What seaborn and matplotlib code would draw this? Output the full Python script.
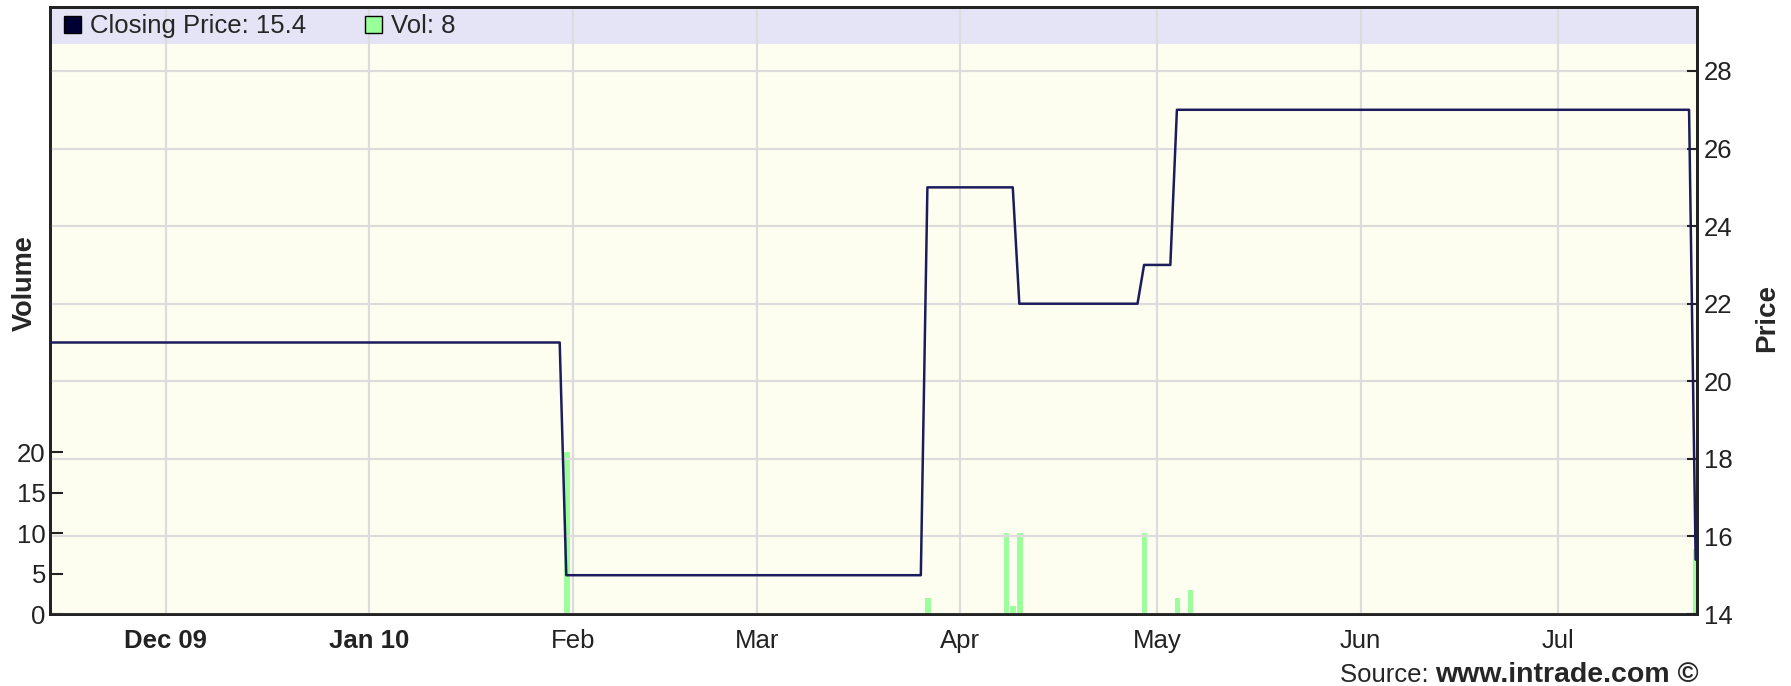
import pandas as pd
import matplotlib
matplotlib.use('Agg')
import matplotlib.pyplot as plt
from matplotlib.patches import Patch, Rectangle
import seaborn as sns

# closing price - only the days where it changes, line joins day to day
price_dates = ['2009-11-13', '2010-01-30', '2010-01-31', '2010-03-26', '2010-03-27',
               '2010-04-09', '2010-04-10', '2010-04-28', '2010-04-29', '2010-05-03',
               '2010-05-04', '2010-07-21', '2010-07-22']
prices = [21, 21, 15, 15, 25, 25, 22, 22, 23, 23, 27, 27, 15.4]

# daily volume (days with trades only)
vol_dates = ['2010-01-31', '2010-03-27', '2010-04-08', '2010-04-09', '2010-04-10',
             '2010-04-29', '2010-05-04', '2010-05-06', '2010-07-22']
volumes = [20, 2, 10, 1, 10, 10, 2, 3, 8]

month_ticks = ['2009-12-01', '2010-01-01', '2010-02-01', '2010-03-01',
               '2010-04-01', '2010-05-01', '2010-06-01', '2010-07-01']
month_labels = ['Dec 09', 'Jan 10', 'Feb', 'Mar', 'Apr', 'May', 'Jun', 'Jul']
vol_ticks = [0, 5, 10, 15, 20]
price_ticks = [14, 16, 18, 20, 22, 24, 26, 28]

sns.set_style('white')
plt.rcParams['font.family'] = ['Liberation Sans', 'DejaVu Sans']
plt.rcParams['font.size'] = 18.5

df_price = pd.DataFrame({'date': pd.to_datetime(price_dates), 'price': prices})
df_vol = pd.DataFrame({'date': pd.to_datetime(vol_dates), 'vol': volumes})

W, H = 1791, 686
fig = plt.figure(figsize=(W / 100, H / 100), dpi=100)
ax = fig.add_axes([50 / W, 72 / H, 1647 / W, 607 / H])
ax.set_facecolor('#fefef0')
ax2 = ax.twinx()

# lavender legend band across the top of the plot
ax.add_patch(Rectangle((0, 0.939), 1, 0.061, transform=ax.transAxes,
                       facecolor='#e4e4f6', edgecolor='none', zorder=0.5))

# volume bars
ax.bar(df_vol['date'], df_vol['vol'], width=0.7, color='#99ff99',
       edgecolor='#99ff99', linewidth=0.6, zorder=2)
ax.set_ylim(0, 75)
ax.set_yticks(vol_ticks)
ax.set_xlim(pd.Timestamp('2009-11-13 09:00'), pd.Timestamp('2010-07-22 05:00'))
ax.set_xticks(pd.to_datetime(month_ticks))
ax.set_xticklabels(month_labels)
for lab in ax.get_xticklabels()[:2]:
    lab.set_fontweight('bold')
ax.grid(axis='x', color='#dcdcdc', lw=1.6, zorder=1)
ax.set_axisbelow(True)
ax.tick_params(axis='y', direction='in', length=9, width=1.5, pad=3, colors='#222222')
ax.tick_params(axis='x', direction='out', length=5, width=1.5, pad=6, colors='#222222')
ax.set_ylabel('')

# closing price line
sns.lineplot(data=df_price, x='date', y='price', ax=ax2, color='#1c1c5c',
             linewidth=1.8, zorder=3)
ax2.set_ylim(14, 29.65)
ax2.set_yticks(price_ticks)
ax2.grid(axis='y', color='#dcdcdc', lw=1.6, zorder=1)
ax2.tick_params(axis='y', direction='in', length=7, width=1.5, pad=5, colors='#222222')
ax2.set_xlabel('')
ax2.set_ylabel('')

for a in (ax, ax2):
    for s in a.spines.values():
        s.set_color('#222222')
        s.set_linewidth(2)

handles = [Patch(facecolor='#000033', edgecolor='black', label='Closing Price: 15.4'),
           Patch(facecolor='#99ff99', edgecolor='black', label='Vol: 8')]
ax2.legend(handles=handles, loc='center left', bbox_to_anchor=(0.0085, 0.968),
           ncol=2, frameon=False, borderpad=0, borderaxespad=0,
           handlelength=0.65, handleheight=0.65, handletextpad=0.35,
           columnspacing=2.3, fontsize=18.5)

# axis titles
fig.text(25 / W, 1 - 283 / H, 'Volume', rotation=90, ha='center', va='center',
         fontweight='bold', fontsize=19.5)
fig.text(1767 / W, 1 - 318 / H, 'Price', rotation=90, ha='center', va='center',
         fontweight='bold', fontsize=20)

# source line, bold url right-aligned to the plot edge
src = fig.text(1699 / W, 1 - 675 / H, 'www.intrade.com \u00a9', ha='right', va='center',
               fontweight='bold', fontsize=20.5)
ax.annotate('Source: ', xy=(0, 0.5), xycoords=src, ha='right', va='center', fontsize=18.5)

fig.savefig('out.png', dpi=100)
